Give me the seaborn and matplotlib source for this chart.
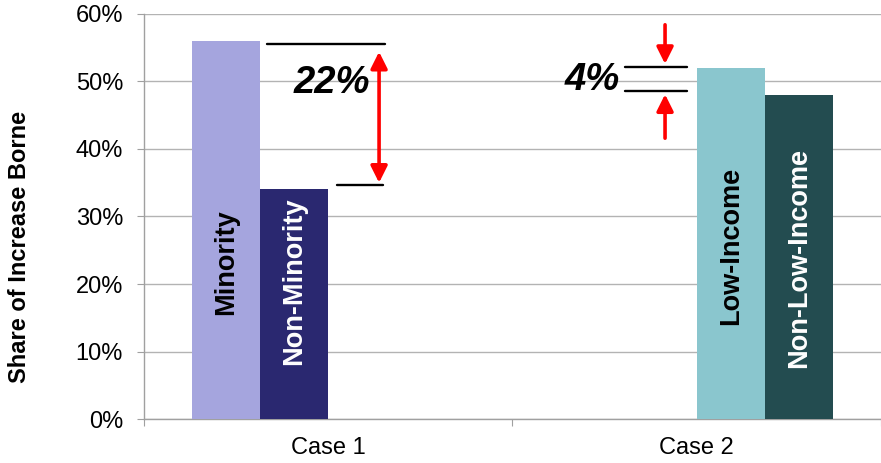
import pandas as pd
import seaborn as sns
import matplotlib.pyplot as plt

# values
cases = ["Case 1", "Case 1", "Case 2", "Case 2"]
groups = ["Minority", "Non-Minority", "Low-Income", "Non-Low-Income"]
shares = [56, 34, 52, 48]
bar_colors = ["#A5A5DE", "#2A2870", "#8AC6CE", "#234C50"]
text_colors = ["black", "white", "black", "white"]
label_y = [23.3, 20.4, 25.6, 23.8]  # where each rotated label sits
yticks = [0, 10, 20, 30, 40, 50, 60]

df = pd.DataFrame({"case": cases, "group": groups, "share": shares})

sns.set_style("white")
plt.rcParams["font.family"] = ["Liberation Sans", "DejaVu Sans"]
plt.rcParams["text.color"] = "black"
plt.rcParams["axes.labelcolor"] = "black"
plt.rcParams["xtick.color"] = "black"
plt.rcParams["ytick.color"] = "black"

fig = plt.figure(figsize=(8.81, 4.63), dpi=100)
ax = fig.add_axes([0.1634, 0.095, 0.8366, 0.8748])

sns.barplot(data=df, x="case", y="share", hue="group", hue_order=groups,
            order=["Case 1", "Case 2"], palette=bar_colors, saturation=1,
            width=0.74, gap=0, dodge=True, legend=False, linewidth=0,
            zorder=3, ax=ax)

ax.set_xlim(-0.5, 1.5)
ax.set_ylim(0, 60)
ax.set_yticks(yticks)
ax.set_yticklabels([f"{v}%" for v in yticks], fontsize=17)
ax.yaxis.grid(True, color="#B3B3B3", linewidth=1, zorder=0)
ax.set_axisbelow(True)

# category boundaries as major ticks, names on minor ticks
ax.set_xticks([-0.5, 0.5, 1.5])
ax.set_xticklabels([])
ax.set_xticks([0, 1], minor=True)
ax.set_xticklabels(["Case 1", "Case 2"], minor=True, fontsize=17)
ax.tick_params(axis="x", which="minor", length=0, pad=13)
ax.tick_params(axis="x", which="major", length=5, color="#A0A0A0", direction="out")
ax.tick_params(axis="y", length=5, color="#A0A0A0", labelcolor="black",
               direction="out", pad=10)
ax.tick_params(bottom=True, left=True)

for side in ["top", "right"]:
    ax.spines[side].set_visible(False)
for side in ["left", "bottom"]:
    ax.spines[side].set_color("#A0A0A0")
    ax.spines[side].set_linewidth(1)

ax.set_xlabel("")
ax.set_ylabel("Share of Increase Borne", fontsize=17, fontweight="bold",
              color="black")
ax.yaxis.set_label_coords(-0.153, 0.426)

# rotated labels inside the bars
for bar_group, g, tc, ly in zip(ax.containers, groups, text_colors, label_y):
    for bar in bar_group:
        if bar.get_height() > 0:
            ax.text(bar.get_x() + bar.get_width() / 2, ly, g, rotation=90,
                    ha="center", va="center", fontsize=19.5, fontweight="bold",
                    color=tc, zorder=5)

# gap markers
ax.plot([-0.166, 0.154], [55.6, 55.6], color="black", lw=1.7, zorder=4)
ax.plot([0.024, 0.149], [34.7, 34.7], color="black", lw=1.7, zorder=4)
ax.annotate("", xy=(0.138, 54.4), xytext=(0.138, 35.0),
            arrowprops=dict(arrowstyle="<|-|>,head_length=0.5,head_width=0.25",
                            color="red", lw=2.6, mutation_scale=20,
                            shrinkA=0, shrinkB=0), zorder=4)
ax.text(0.01, 49.8, "22%", fontsize=27.5, fontweight="bold", fontstyle="italic",
        ha="center", va="center", color="black", zorder=5)

ax.plot([0.805, 0.974], [52.1, 52.1], color="black", lw=1.7, zorder=4)
ax.plot([0.805, 0.974], [48.6, 48.6], color="black", lw=1.7, zorder=4)
ax.annotate("", xy=(0.914, 52.6), xytext=(0.914, 58.4),
            arrowprops=dict(arrowstyle="-|>,head_length=0.5,head_width=0.25",
                            color="red", lw=2.6, mutation_scale=20,
                            shrinkA=0, shrinkB=0), zorder=4)
ax.annotate("", xy=(0.914, 48.1), xytext=(0.914, 41.6),
            arrowprops=dict(arrowstyle="-|>,head_length=0.5,head_width=0.25",
                            color="red", lw=2.6, mutation_scale=20,
                            shrinkA=0, shrinkB=0), zorder=4)
ax.text(0.716, 50.2, "4%", fontsize=27.5, fontweight="bold", fontstyle="italic",
        ha="center", va="center", color="black", zorder=5)

fig.savefig("out.png", dpi=100)
